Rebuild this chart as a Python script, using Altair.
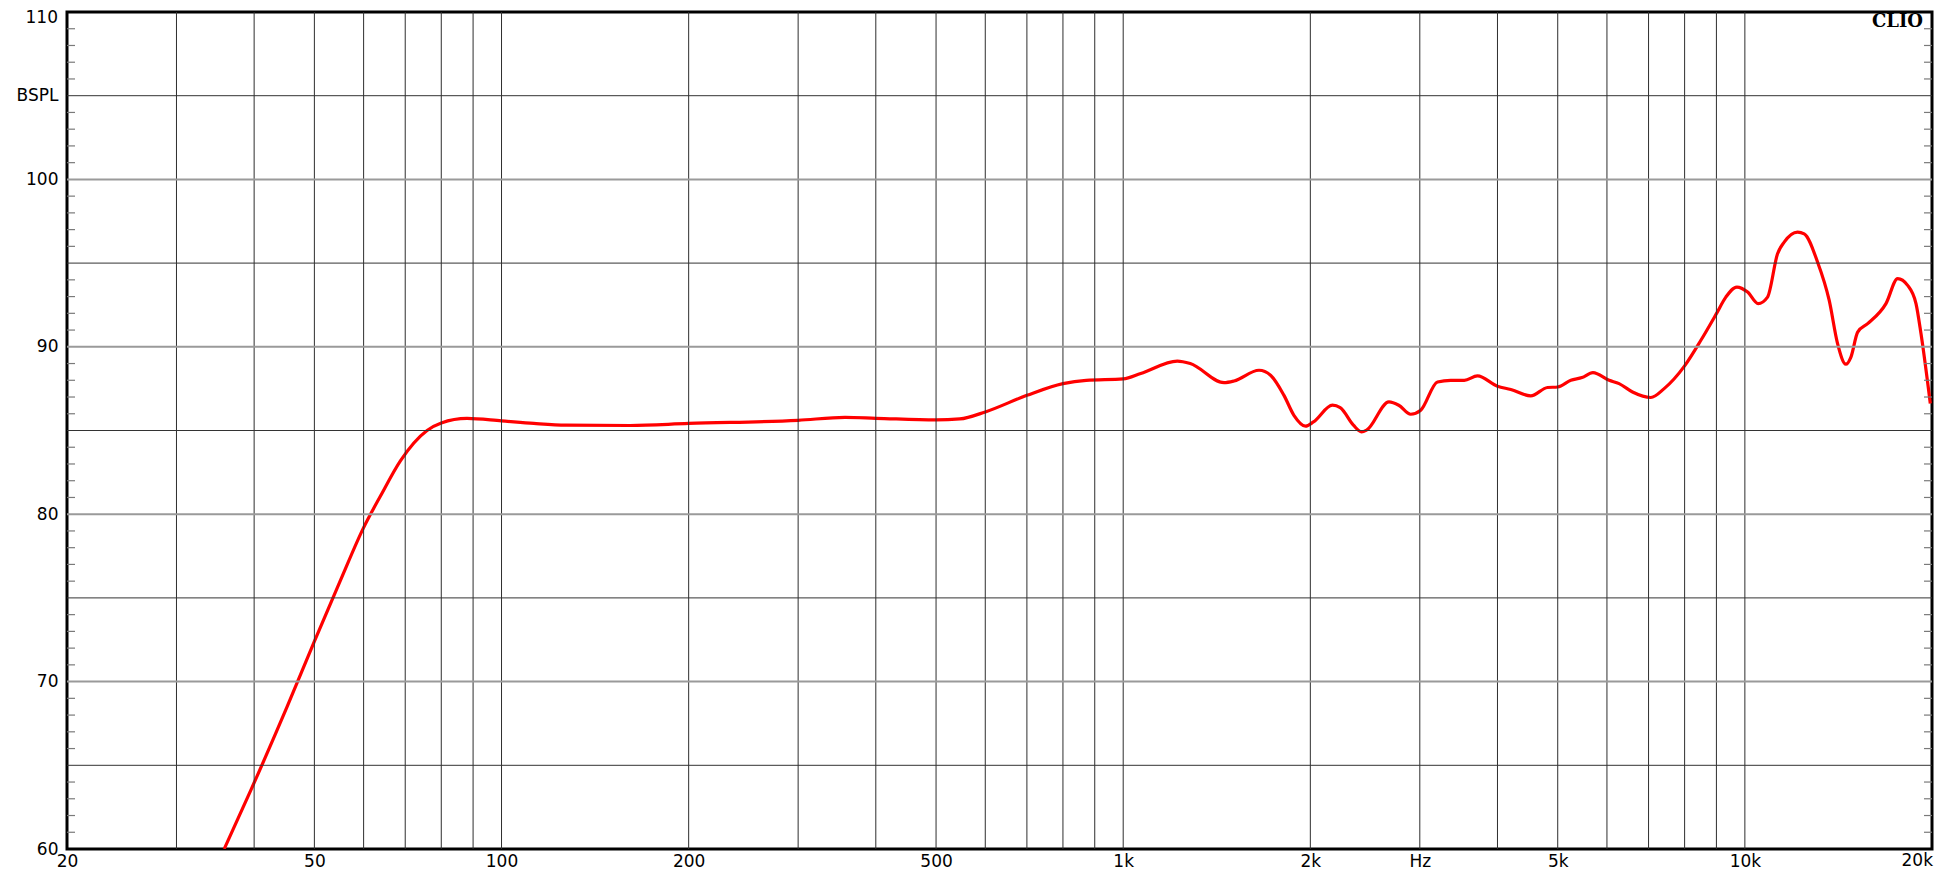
import altair as alt
import pandas as pd

# ---- measured response (Hz, dB SPL) ----
freq = [35.8, 39.5, 45.2, 50, 55, 60, 63.9, 68.8, 75.9, 80, 88, 100, 112.7, 127,
        161, 200, 300, 357, 400, 500, 546, 600, 700, 800, 872, 1000, 1067, 1222,
        1282, 1453, 1508, 1654, 1726, 1814, 1882, 1965, 2023, 2171, 2234, 2346,
        2417, 2463, 2676, 2775, 2900, 3010, 3203, 3364, 3537, 3714, 4000, 4202,
        4524, 4815, 5000, 5249, 5471, 5697, 6050, 6276, 6596, 7059, 7416, 8000,
        8497, 9000, 9320, 9708, 10103, 10504, 10877, 11287, 11568, 12156, 12460,
        13091, 13668, 14097, 14540, 14812, 15186, 15759, 16864, 17613, 18274,
        18849, 19200, 19875]
spl = [60.0, 63.5, 68.5, 72.4, 76.0, 79.2, 81.1, 83.2, 85.0, 85.45, 85.72, 85.57,
       85.42, 85.32, 85.3, 85.42, 85.61, 85.78, 85.73, 85.63, 85.69, 86.11, 87.1,
       87.8, 88.0, 88.08, 88.4, 89.15, 89.0, 87.86, 87.96, 88.6, 88.3, 87.1, 85.91,
       85.26, 85.51, 86.51, 86.37, 85.32, 84.92, 85.02, 86.71, 86.51, 85.97, 86.21,
       87.9, 88.0, 88.0, 88.26, 87.64, 87.45, 87.07, 87.57, 87.6, 88.0, 88.16,
       88.46, 88.0, 87.8, 87.3, 86.97, 87.5, 88.86, 90.39, 91.98, 92.97, 93.57,
       93.27, 92.58, 92.97, 95.56, 96.25, 96.85, 96.75, 95.06, 92.77, 90.19, 88.96,
       89.39, 90.88, 91.38, 92.58, 94.07, 93.67, 92.58, 90.79, 86.61]

# ---- grid and tick definitions ----
grid_freqs = [30, 40, 50, 60, 70, 80, 90, 100, 200, 300, 400, 500, 600, 700, 800,
              900, 1000, 2000, 3000, 4000, 5000, 6000, 7000, 8000, 9000, 10000]
grid_db_10 = [70, 80, 90, 100]
grid_db_5 = [65, 75, 85, 95, 105]
minor_db = [61, 62, 63, 64, 66, 67, 68, 69, 71, 72, 73, 74, 76, 77, 78, 79,
            81, 82, 83, 84, 86, 87, 88, 89, 91, 92, 93, 94, 96, 97, 98, 99,
            101, 102, 103, 104, 106, 107, 108, 109]
x_tick_values = [20, 50, 100, 200, 500, 1000, 2000, 3000, 5000, 10000]
x_tick_labels = ["20", "50", "100", "200", "500", "1k", "2k", "Hz", "5k", "10k"]
x_end_value = [20000]
x_end_label = ["20k"]
y_tick_values = [60, 70, 80, 90, 100, 105]
y_tick_labels = ["60", "70", "80", "90", "100", "BSPL"]
y_top_value = [110]
y_top_label = ["110"]
brand = ["CLIO"]

W, H = 1865, 837
FONT = "DejaVu Sans"


def label_expr(vals, labs):
    parts = [f"datum.value == {v} ? '{t}'" for v, t in zip(vals, labs)]
    return " : ".join(parts) + " : ''"


xscale = alt.Scale(type="log", domain=[20, 20000], nice=False)
yscale = alt.Scale(domain=[60, 110], nice=False, zero=False)

x_axis = alt.Axis(
    values=x_tick_values, labelExpr=label_expr(x_tick_values, x_tick_labels),
    grid=False, domain=False, ticks=False, tickSize=0, title=None,
    labelFont=FONT, labelFontSize=17, labelColor="#000000", labelPadding=4,
    labelFlush=False, labelOverlap=False)
y_axis = alt.Axis(
    values=y_tick_values, labelExpr=label_expr(y_tick_values, y_tick_labels),
    grid=False, domain=False, ticks=False, tickSize=0, title=None,
    labelFont=FONT, labelFontSize=17, labelColor="#000000", labelPadding=9,
    labelFlush=False, labelOverlap=False)


def X(field):
    return alt.X(field, type="quantitative", scale=xscale, axis=x_axis)


def Y(field):
    return alt.Y(field, type="quantitative", scale=yscale, axis=y_axis)


curve = alt.Chart(pd.DataFrame({"f": freq, "db": spl})).mark_line(
    color="#ff0000", strokeWidth=3.2, interpolate="monotone", clip=True
).encode(x=X("f"), y=Y("db"))

vgrid = alt.Chart(pd.DataFrame({"f": grid_freqs})).mark_rule(
    color="#2e2e2e", strokeWidth=1
).encode(x=X("f"))

hgrid10 = alt.Chart(pd.DataFrame({"db": grid_db_10})).mark_rule(
    color="#9a9a9a", strokeWidth=2
).encode(y=Y("db"))

hgrid5 = alt.Chart(pd.DataFrame({"db": grid_db_5})).mark_rule(
    color="#333333", strokeWidth=1
).encode(y=Y("db"))

minor_df = pd.DataFrame({"db": minor_db})
minor_left = alt.Chart(minor_df).mark_rule(color="#7a7a7a", strokeWidth=1.2).encode(
    y=Y("db"), x=alt.value(0), x2=alt.value(8)
)
minor_right = alt.Chart(minor_df).mark_rule(color="#7a7a7a", strokeWidth=1.2).encode(
    y=Y("db"), x=alt.value(W - 8), x2=alt.value(W)
)

top_label = alt.Chart(pd.DataFrame({"db": y_top_value, "t": y_top_label})).mark_text(
    align="right", baseline="middle", dx=-9, dy=6, font=FONT, fontSize=17,
    color="#000000"
).encode(x=alt.value(0), y=Y("db"), text="t:N")

end_label = alt.Chart(pd.DataFrame({"f": x_end_value, "t": x_end_label})).mark_text(
    align="right", baseline="top", dx=1, dy=4, font=FONT, fontSize=17,
    color="#000000"
).encode(x=X("f"), y=alt.value(H), text="t:N")

clio = alt.Chart(pd.DataFrame({"f": [20000], "db": [110], "t": brand})).mark_text(
    align="right", baseline="top", dx=-9, dy=1, font="DejaVu Serif",
    fontWeight="bold", fontSize=18, color="#000000"
).encode(x=X("f"), y=Y("db"), text="t:N")

chart = alt.layer(
    curve, vgrid, hgrid10, hgrid5, minor_left, minor_right, top_label, end_label,
    clio
).properties(
    width=W, height=H,
    padding={"left": 59, "top": 4, "right": 2, "bottom": 22},
    autosize=alt.AutoSizeParams(type="none"),
    background="white",
).configure_view(stroke="#000000", strokeWidth=3)

chart.save("out.html", embed_options={"renderer": "svg", "actions": False})
